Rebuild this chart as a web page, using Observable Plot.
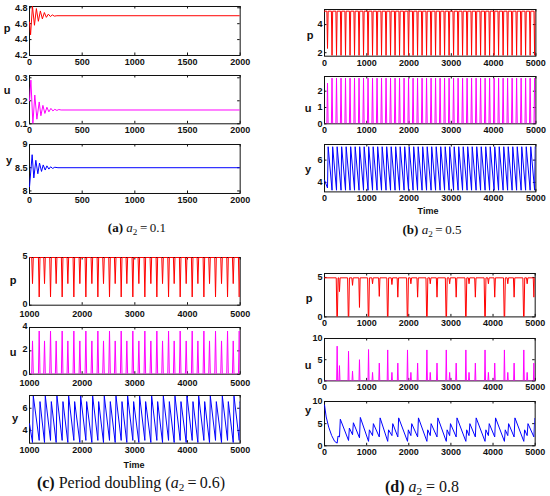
<!DOCTYPE html>
<html><head><meta charset="utf-8">
<script src="https://cdn.jsdelivr.net/npm/d3@7"></script>
<script src="https://cdn.jsdelivr.net/npm/@observablehq/plot@0.6"></script>
<style>
body{margin:0;background:#fff;}
#fig{position:relative;width:550px;height:496px;overflow:hidden;font-family:"Liberation Sans",Arial,sans-serif;background:#fff;}
.lab{position:absolute;font-weight:bold;font-size:11px;transform:translate(-50%,-50%);color:#111;}
.tl{position:absolute;font-weight:bold;font-size:9px;transform:translate(-50%,-50%);color:#111;}
.cap{position:absolute;font-family:"Liberation Serif","Times New Roman",serif;font-size:13px;transform:translate(-50%,-50%);white-space:nowrap;color:#111;}
.cap sub{font-size:0.7em;vertical-align:-0.3em;line-height:0;}
</style></head><body><div id="fig"></div>
<script>
// ---------------- (a) a2 = 0.1 : damped oscillations ----------------
const aPt = [0, 10, 28, 47, 65, 84, 103, 122, 141, 160, 179, 198, 217, 236, 260, 2000];
const aPv = [4.62, 4.46, 4.82, 4.58, 4.79, 4.63, 4.76, 4.66, 4.74, 4.68, 4.72, 4.69, 4.71, 4.695, 4.70, 4.70];
const aUt = [0, 13, 32, 50, 70, 92, 108, 127, 146, 165, 184, 203, 222, 240, 260, 278, 300, 2000];
const aUv = [0.2, 0.29, 0.10, 0.225, 0.12, 0.195, 0.135, 0.18, 0.145, 0.172, 0.152, 0.167, 0.156, 0.163, 0.158, 0.162, 0.16, 0.16];
const aYt = [0, 25, 41, 60, 79, 95, 114, 130, 149, 165, 184, 200, 220, 240, 270, 2000];
const aYv = [8.09, 8.78, 8.28, 8.66, 8.37, 8.6, 8.42, 8.56, 8.45, 8.54, 8.47, 8.52, 8.485, 8.51, 8.5, 8.5];

// ---------------- (b) a2 = 0.5 : periodic spikes ----------------
const bT = [71, 178, 284, 391, 497, 604, 710, 817, 923, 1030, 1136, 1243, 1349, 1456, 1562, 1669, 1775, 1882, 1988, 2095, 2201, 2308, 2414, 2521, 2627, 2734, 2840, 2947, 3053, 3160, 3266, 3373, 3479, 3586, 3692, 3799, 3905, 4012, 4118, 4225, 4331, 4438, 4544, 4651, 4757, 4864, 4970];
const bPlow = [2.3, 1.8, 1.8, 1.8, 1.8, 1.8, 1.8, 1.8, 1.8, 1.8, 1.8, 1.8, 1.8, 1.8, 1.8, 1.8, 1.8, 1.8, 1.8, 1.8, 1.8, 1.8, 1.8, 1.8, 1.8, 1.8, 1.8, 1.8, 1.8, 1.8, 1.8, 1.8, 1.8, 1.8, 1.8, 1.8, 1.8, 1.8, 1.8, 1.8, 1.8, 1.8, 1.8, 1.8, 1.8, 1.8, 1.8];
const bPbase = 4.95;
const bUpeak = [2.5, 2.8, 2.8, 2.8, 2.8, 2.8, 2.8, 2.8, 2.8, 2.8, 2.8, 2.8, 2.8, 2.8, 2.8, 2.8, 2.8, 2.8, 2.8, 2.8, 2.8, 2.8, 2.8, 2.8, 2.8, 2.8, 2.8, 2.8, 2.8, 2.8, 2.8, 2.8, 2.8, 2.8, 2.8, 2.8, 2.8, 2.8, 2.8, 2.8, 2.8, 2.8, 2.8, 2.8, 2.8, 2.8, 2.8];
const bYlo = [3.5, 3.3, 3.3, 3.3, 3.3, 3.3, 3.3, 3.3, 3.3, 3.3, 3.3, 3.3, 3.3, 3.3, 3.3, 3.3, 3.3, 3.3, 3.3, 3.3, 3.3, 3.3, 3.3, 3.3, 3.3, 3.3, 3.3, 3.3, 3.3, 3.3, 3.3, 3.3, 3.3, 3.3, 3.3, 3.3, 3.3, 3.3, 3.3, 3.3, 3.3, 3.3, 3.3, 3.3, 3.3, 3.3, 3.3];
const bYhi = 7.2, bYstart = 4.2, bYend = 7.0;

// ---------------- (c) period doubling a2 = 0.6 ----------------
const cT = [1057, 1184, 1285, 1399, 1506, 1620, 1728, 1842, 1956, 2070, 2184, 2298, 2405, 2519, 2627, 2741, 2848, 2962, 3076, 3190, 3304, 3418, 3526, 3640, 3747, 3861, 3975, 4089, 4197, 4311, 4418, 4532, 4646, 4760, 4868, 4982];
const cPlow = [2.26, 0.86, 2.26, 0.86, 2.26, 0.86, 2.26, 0.86, 2.26, 0.86, 2.26, 0.86, 2.26, 0.86, 2.26, 0.86, 2.26, 0.86, 2.26, 0.86, 2.26, 0.86, 2.26, 0.86, 2.26, 0.86, 2.26, 0.86, 2.26, 0.86, 2.26, 0.86, 2.26, 0.86, 2.26, 0.86];
const cPbase = 5.0;
const cUpeak = [2.85, 3.7, 2.85, 3.7, 2.85, 3.7, 2.85, 3.7, 2.85, 3.7, 2.85, 3.7, 2.85, 3.7, 2.85, 3.7, 2.85, 3.7, 2.85, 3.7, 2.85, 3.7, 2.85, 3.7, 2.85, 3.7, 2.85, 3.7, 2.85, 3.7, 2.85, 3.7, 2.85, 3.7, 2.85, 3.7];
const cYlo = [2.9, 3.1, 2.9, 3.1, 2.9, 3.1, 2.9, 3.1, 2.9, 3.1, 2.9, 3.1, 2.9, 3.1, 2.9, 3.1, 2.9, 3.1, 2.9, 3.1, 2.9, 3.1, 2.9, 3.1, 2.9, 3.1, 2.9, 3.1, 2.9, 3.1, 2.9, 3.1, 2.9, 3.1, 2.9, 3.1];
const cYhi = [7.1, 6.6, 7.1, 6.6, 7.1, 6.6, 7.1, 6.6, 7.1, 6.6, 7.1, 6.6, 7.1, 6.6, 7.1, 6.6, 7.1, 6.6, 7.1, 6.6, 7.1, 6.6, 7.1, 6.6, 7.1, 6.6, 7.1, 6.6, 7.1, 6.6, 7.1, 6.6, 7.1, 6.6, 7.1, 6.6];
const cYstart = 4.6, cYend = 6.5;

// ---------------- (d) a2 = 0.8 ----------------
const dT = [300, 355, 570, 665, 830, 1045, 1140, 1300, 1500, 1600, 1740, 1970, 2050, 2210, 2430, 2510, 2670, 2890, 2970, 3125, 3355, 3430, 3580, 3810, 3890, 4040, 4270, 4350, 4500, 4730, 4810, 4970];
const dPlow = [0, 3.2, 0, 4.0, 1.2, 0, 4.2, 2.6, 0, 4.1, 2.5, 0, 4.2, 2.5, 0, 4.2, 2.5, 0, 4.2, 2.5, 0, 4.2, 2.5, 0, 4.2, 2.5, 0, 4.2, 2.5, 0, 4.2, 2.5];
const dPbase = 4.95;
const dUpeak = [8.2, 3.6, 7.0, 2.3, 5.0, 7.4, 2.0, 4.2, 7.3, 2.0, 4.2, 7.3, 2.0, 4.2, 7.3, 2.0, 4.2, 7.3, 2.0, 4.2, 7.3, 2.0, 4.2, 7.3, 2.0, 4.2, 7.3, 2.0, 4.2, 7.3, 2.0, 4.2];
const dYlo = [0.6, 2.0, 1.2, 2.5, 1.8, 1.0, 2.3, 2.0, 1.0, 2.3, 2.0, 1.0, 2.3, 2.0, 1.0, 2.3, 2.0, 1.0, 2.3, 2.0, 1.0, 2.3, 2.0, 1.0, 2.3, 2.0, 1.0, 2.3, 2.0, 1.0, 2.3, 2.0];
const dYhi = [2.2, 6.0, 4.0, 5.2, 6.4, 3.6, 5.0, 6.3, 3.6, 5.0, 6.3, 3.6, 5.0, 6.3, 3.6, 5.0, 6.3, 3.6, 5.0, 6.3, 3.6, 5.0, 6.3, 3.6, 5.0, 6.3, 3.6, 5.0, 6.3, 3.6, 5.0, 6.2];
const dY0t = [0, 40, 100, 170, 240];
const dY0v = [9.2, 6.5, 4.2, 2.3, 1.0];
const dYend = 6.0;

// tick labels
const ticksA = [0, 500, 1000, 1500, 2000];
const ticks5k = [0, 1000, 2000, 3000, 4000, 5000];
const ticksC = [1000, 2000, 3000, 4000, 5000];

// ---------- build tables from the arrays ----------
const zip = (ts, vs) => ts.map((t, i) => ({t, v: vs[i]}));
function dips(T, low, base, w, t0, t1) {
  const pts = [{t: t0, v: base}];
  T.forEach((t, i) => { pts.push({t: t - w, v: base}, {t, v: low[i]}, {t: t + w, v: base}); });
  pts.push({t: t1, v: base});
  return pts;
}
function dipsU(T, low, base, t0, t1) {
  const pts = [{t: t0, v: base}];
  T.forEach((t, i) => {
    if (low[i] === 0) pts.push({t: t - 22, v: base}, {t: t - 6, v: 0}, {t: t + 6, v: 0}, {t: t + 22, v: base});
    else pts.push({t: t - 16, v: base}, {t, v: low[i]}, {t: t + 16, v: base});
  });
  pts.push({t: t1, v: base});
  return pts;
}
function spikes(T, peak, w, t0, t1) {
  const pts = [{t: t0, v: 0}];
  T.forEach((t, i) => { pts.push({t: t - w, v: 0}, {t, v: peak[i]}, {t: t + w, v: 0}); });
  pts.push({t: t1, v: 0});
  return pts;
}
function saw(T, lo, hi, rise, start, end) {
  const pts = [...start];
  T.forEach((t, i) => { pts.push({t, v: lo[i]}, {t: t + rise, v: Array.isArray(hi) ? hi[i] : hi}); });
  pts.push(end);
  return pts;
}

const RED = "#ff0000", MAG = "#ff00ff", BLUE = "#0000ff";
const fig = document.getElementById("fig");

function panel(o) {
  const ml = 28, mr = 6, mt = 6, mb = 16;
  const fw = o.x1 - o.x0, fh = o.y1 - o.y0;
  const tk = 2.5;
  const svg = Plot.plot({
    width: fw + ml + mr, height: fh + mt + mb,
    marginLeft: ml, marginRight: mr, marginTop: mt, marginBottom: mb,
    x: {domain: o.xd}, y: {domain: o.yd},
    style: {fontFamily: "'Liberation Sans', Arial, sans-serif", fontSize: "9px", fontWeight: "bold", color: "#111", background: "transparent", overflow: "visible"},
    marks: [
      Plot.frame({stroke: "#111", strokeWidth: 1}),
      Plot.tickX(o.xt, {x: d => d, stroke: "#111", insetTop: fh - tk}),
      Plot.tickX(o.xt, {x: d => d, stroke: "#111", insetBottom: fh - tk}),
      Plot.tickY(o.yt, {y: d => d, stroke: "#111", insetRight: fw - tk}),
      Plot.tickY(o.yt, {y: d => d, stroke: "#111", insetLeft: fw - tk}),
      Plot.line(o.data, {x: "t", y: "v", stroke: o.color, strokeWidth: o.sw || 1, clip: true}),
      Plot.axisX({ticks: o.xt, tickSize: 0, tickPadding: o.xpad || 3, tickFormat: d => String(d), label: null}),
      Plot.axisY({ticks: o.yt, tickSize: 0, tickPadding: 2, dy: o.ydy || 0, tickFormat: d => String(d), label: null})
    ]
  });
  svg.style.position = "absolute";
  svg.style.left = (o.x0 - ml) + "px";
  svg.style.top = (o.y0 - mt) + "px";
  fig.appendChild(svg);
  const l = document.createElement("div");
  l.className = "lab"; l.textContent = o.label;
  l.style.left = o.lx + "px"; l.style.top = o.ly + "px";
  fig.appendChild(l);
}

// (a)
panel({x0: 29.3, x1: 240, y0: 6, y1: 55, xd: [0, 2000], yd: [4.2, 4.816], xt: ticksA, yt: [4.2, 4.4, 4.6, 4.8], data: zip(aPt, aPv), color: RED, label: "p", lx: 7, ly: 28});
panel({x0: 29.3, x1: 240, y0: 75, y1: 123.3, xd: [0, 2000], yd: [0.1, 0.31], xt: ticksA, yt: [0.1, 0.2, 0.3], data: zip(aUt, aUv), color: MAG, label: "u", lx: 7, ly: 90});
panel({x0: 29.3, x1: 240, y0: 144.3, y1: 193.3, xd: [0, 2000], yd: [7.945, 9], xt: ticksA, yt: [8, 8.5, 9], data: zip(aYt, aYv), color: BLUE, label: "y", lx: 9, ly: 160});

// (b)
panel({x0: 324.3, x1: 535.7, y0: 9.3, y1: 56, xd: [0, 5000], yd: [1.75, 5.07], xt: ticks5k, yt: [2, 4], data: dips(bT, bPlow, bPbase, 15, 0, 5000), color: RED, label: "p", lx: 310, ly: 35});
panel({x0: 324.3, x1: 535.7, y0: 76, y1: 123.3, xd: [0, 5000], yd: [0, 2.9], xt: ticks5k, yt: [0, 1, 2], data: spikes(bT, bUpeak, 15, 0, 5000), color: MAG, label: "u", lx: 308, ly: 108});
panel({x0: 324.3, x1: 535.7, y0: 144.3, y1: 191.7, xd: [0, 5000], yd: [3.15, 7.4], xt: ticks5k, yt: [4, 6], data: saw(bT, bYlo, bYhi, 15, [{t: 0, v: bYstart}], {t: 5000, v: bYend}), color: BLUE, label: "y", lx: 308, ly: 169});

// (c)
panel({x0: 29.3, x1: 240, y0: 257.3, y1: 305, xd: [1000, 5000], yd: [0, 5], xt: ticksC, yt: [0, 5], xpad: 5, ydy: -1.5, data: dips(cT, cPlow, cPbase, 15, 1000, 5000), color: RED, label: "p", lx: 13, ly: 280});
panel({x0: 29.3, x1: 240, y0: 327.3, y1: 374, xd: [1000, 5000], yd: [0, 4], xt: ticksC, yt: [0, 2, 4], xpad: 5, ydy: -1.5, data: spikes(cT, cUpeak, 15, 1000, 5000), color: MAG, label: "u", lx: 13, ly: 352});
panel({x0: 29.3, x1: 240, y0: 395, y1: 442.7, xd: [1000, 5000], yd: [2.85, 7.15], xt: ticksC, yt: [4, 6], data: saw(cT, cYlo, cYhi, 15, [{t: 1000, v: cYstart}], {t: 5000, v: cYend}), color: BLUE, label: "y", lx: 15, ly: 418});

// (d)
panel({x0: 324.3, x1: 535, y0: 273.3, y1: 316.7, xd: [0, 5000], yd: [0, 5.5], xt: ticks5k, yt: [0, 5], data: dipsU(dT, dPlow, dPbase, 0, 5000), color: RED, label: "p", lx: 309, ly: 298});
panel({x0: 324.3, x1: 535, y0: 338.3, y1: 380.7, xd: [0, 5000], yd: [0, 10], xt: ticks5k, yt: [0, 5, 10], data: spikes(dT, dUpeak, 12, 0, 5000), color: MAG, label: "u", lx: 308, ly: 365});
panel({x0: 324.3, x1: 535, y0: 400.7, y1: 445, xd: [0, 5000], yd: [0, 10], xt: ticks5k, yt: [0, 5, 10], data: saw(dT, dYlo, dYhi, 20, zip(dY0t, dY0v), {t: 5000, v: dYend}), color: BLUE, label: "y", lx: 308, ly: 410});

// "Time" labels
[[428, 211], [134, 465]].forEach(([x, y]) => {
  const d = document.createElement("div"); d.className = "tl"; d.textContent = "Time";
  d.style.left = x + "px"; d.style.top = y + "px"; fig.appendChild(d);
});

// captions
const caps = [
  {x: 137, y: 228, fs: 13, html: "<b>(a)</b> <i>a</i><sub>2</sub>&thinsp;=&thinsp;0.1"},
  {x: 432, y: 230, fs: 13, html: "<b>(b)</b> <i>a</i><sub>2</sub>&thinsp;=&thinsp;0.5"},
  {x: 131, y: 483, fs: 16, html: "<b>(c)</b> Period doubling (<i>a</i><sub>2</sub>&thinsp;=&thinsp;0.6)"},
  {x: 422, y: 487, fs: 16, html: "<b>(d)</b> <i>a</i><sub>2</sub> = 0.8"}
];
caps.forEach(c => {
  const d = document.createElement("div"); d.className = "cap"; d.innerHTML = c.html;
  d.style.fontSize = c.fs + "px";
  d.style.left = c.x + "px"; d.style.top = c.y + "px"; fig.appendChild(d);
});
</script></body></html>
